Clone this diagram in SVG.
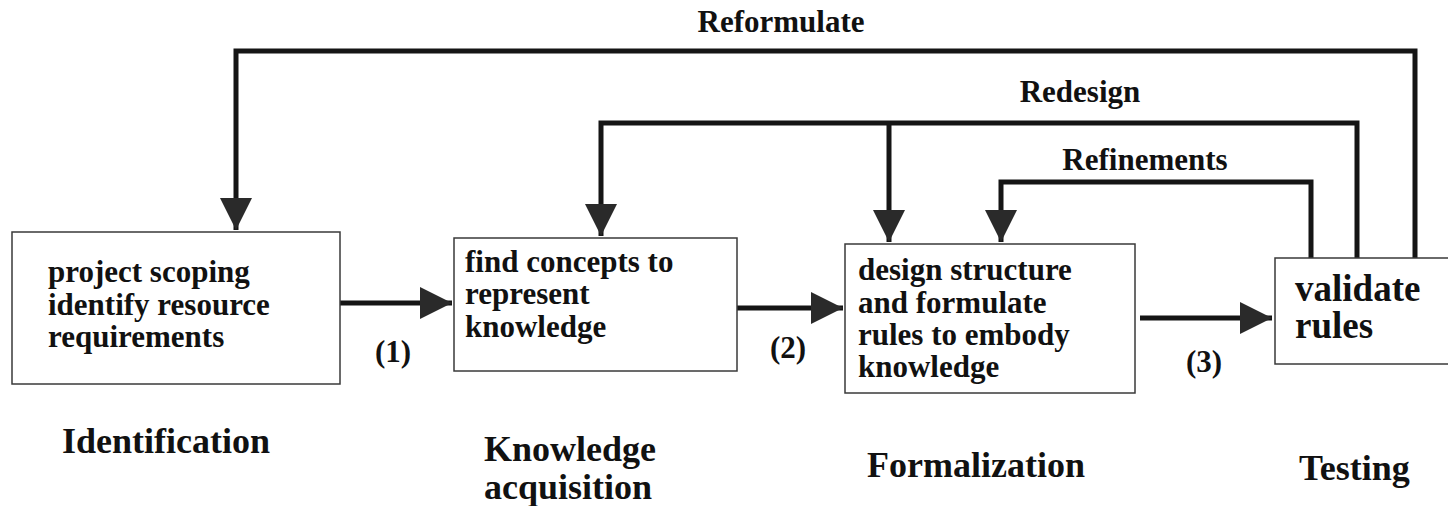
<svg xmlns="http://www.w3.org/2000/svg" width="1448" height="506" viewBox="0 0 1448 506">
  <style>
    .box { fill: #ffffff; stroke: #3a3a3a; stroke-width: 1.5; }
    .t { font-family: "Liberation Serif", "Times New Roman", serif; font-weight: bold; fill: #111111; }
    .bt { font-size: 31px; }
    .vt { font-size: 37px; }
    .lab { font-size: 31px; text-anchor: middle; }
    .phase { font-size: 36px; }
    .fb { font-size: 31px; text-anchor: middle; }
    .conn { fill: none; stroke: #151515; stroke-width: 5; stroke-linejoin: miter; }
  </style>
  <defs>
    <marker id="ah" markerUnits="userSpaceOnUse" markerWidth="32" markerHeight="32" refX="32" refY="16" orient="auto" viewBox="0 0 32 32">
      <path d="M0,0 L32,16 L0,32 z" fill="#2a2a2a"/>
    </marker>
  </defs>
  <rect width="1448" height="506" fill="#ffffff"/>

  <g id="connectors">
    <path class="conn" d="M340,303 L452,303" marker-end="url(#ah)"/>
    <path class="conn" d="M737,308 L843,308" marker-end="url(#ah)"/>
    <path class="conn" d="M1140,318 L1272,318" marker-end="url(#ah)"/>
    <path class="conn" d="M1415,258 L1415,51 L236,51 L236,230" marker-end="url(#ah)"/>
    <path class="conn" d="M1357,258 L1357,123 L601,123 L601,236" marker-end="url(#ah)"/>
    <path class="conn" d="M889,123 L889,242" marker-end="url(#ah)"/>
    <path class="conn" d="M1311,258 L1311,182 L1001,182 L1001,242" marker-end="url(#ah)"/>
    <text class="t fb" x="781" y="32">Reformulate</text>
    <text class="t fb" x="1080" y="102">Redesign</text>
    <text class="t fb" x="1145" y="170">Refinements</text>
    <text class="t lab" x="393" y="362">(1)</text>
    <text class="t lab" x="788" y="358">(2)</text>
    <text class="t lab" x="1204" y="372">(3)</text>
  </g>

  <g id="node-identification">
    <rect class="box" x="12" y="232" width="328" height="152"/>
    <text class="t bt" x="48" y="282">project scoping</text>
    <text class="t bt" x="48" y="315">identify resource</text>
    <text class="t bt" x="48" y="347">requirements</text>
    <text class="t phase" x="62" y="453">Identification</text>
  </g>

  <g id="node-acquisition">
    <rect class="box" x="454" y="238" width="283" height="133"/>
    <text class="t bt" x="465" y="272">find concepts to</text>
    <text class="t bt" x="465" y="304">represent</text>
    <text class="t bt" x="465" y="337">knowledge</text>
    <text class="t phase" x="484" y="461">Knowledge</text>
    <text class="t phase" x="484" y="499">acquisition</text>
  </g>

  <g id="node-formalization">
    <rect class="box" x="845" y="244" width="290" height="149"/>
    <text class="t bt" x="858" y="280">design structure</text>
    <text class="t bt" x="858" y="313">and formulate</text>
    <text class="t bt" x="858" y="345">rules to embody</text>
    <text class="t bt" x="858" y="377">knowledge</text>
    <text class="t phase" x="867" y="477">Formalization</text>
  </g>

  <g id="node-testing">
    <rect class="box" x="1275" y="258" width="190" height="106"/>
    <text class="t vt" x="1295" y="301">validate</text>
    <text class="t vt" x="1295" y="338">rules</text>
    <text class="t phase" x="1299" y="480">Testing</text>
  </g>
</svg>
